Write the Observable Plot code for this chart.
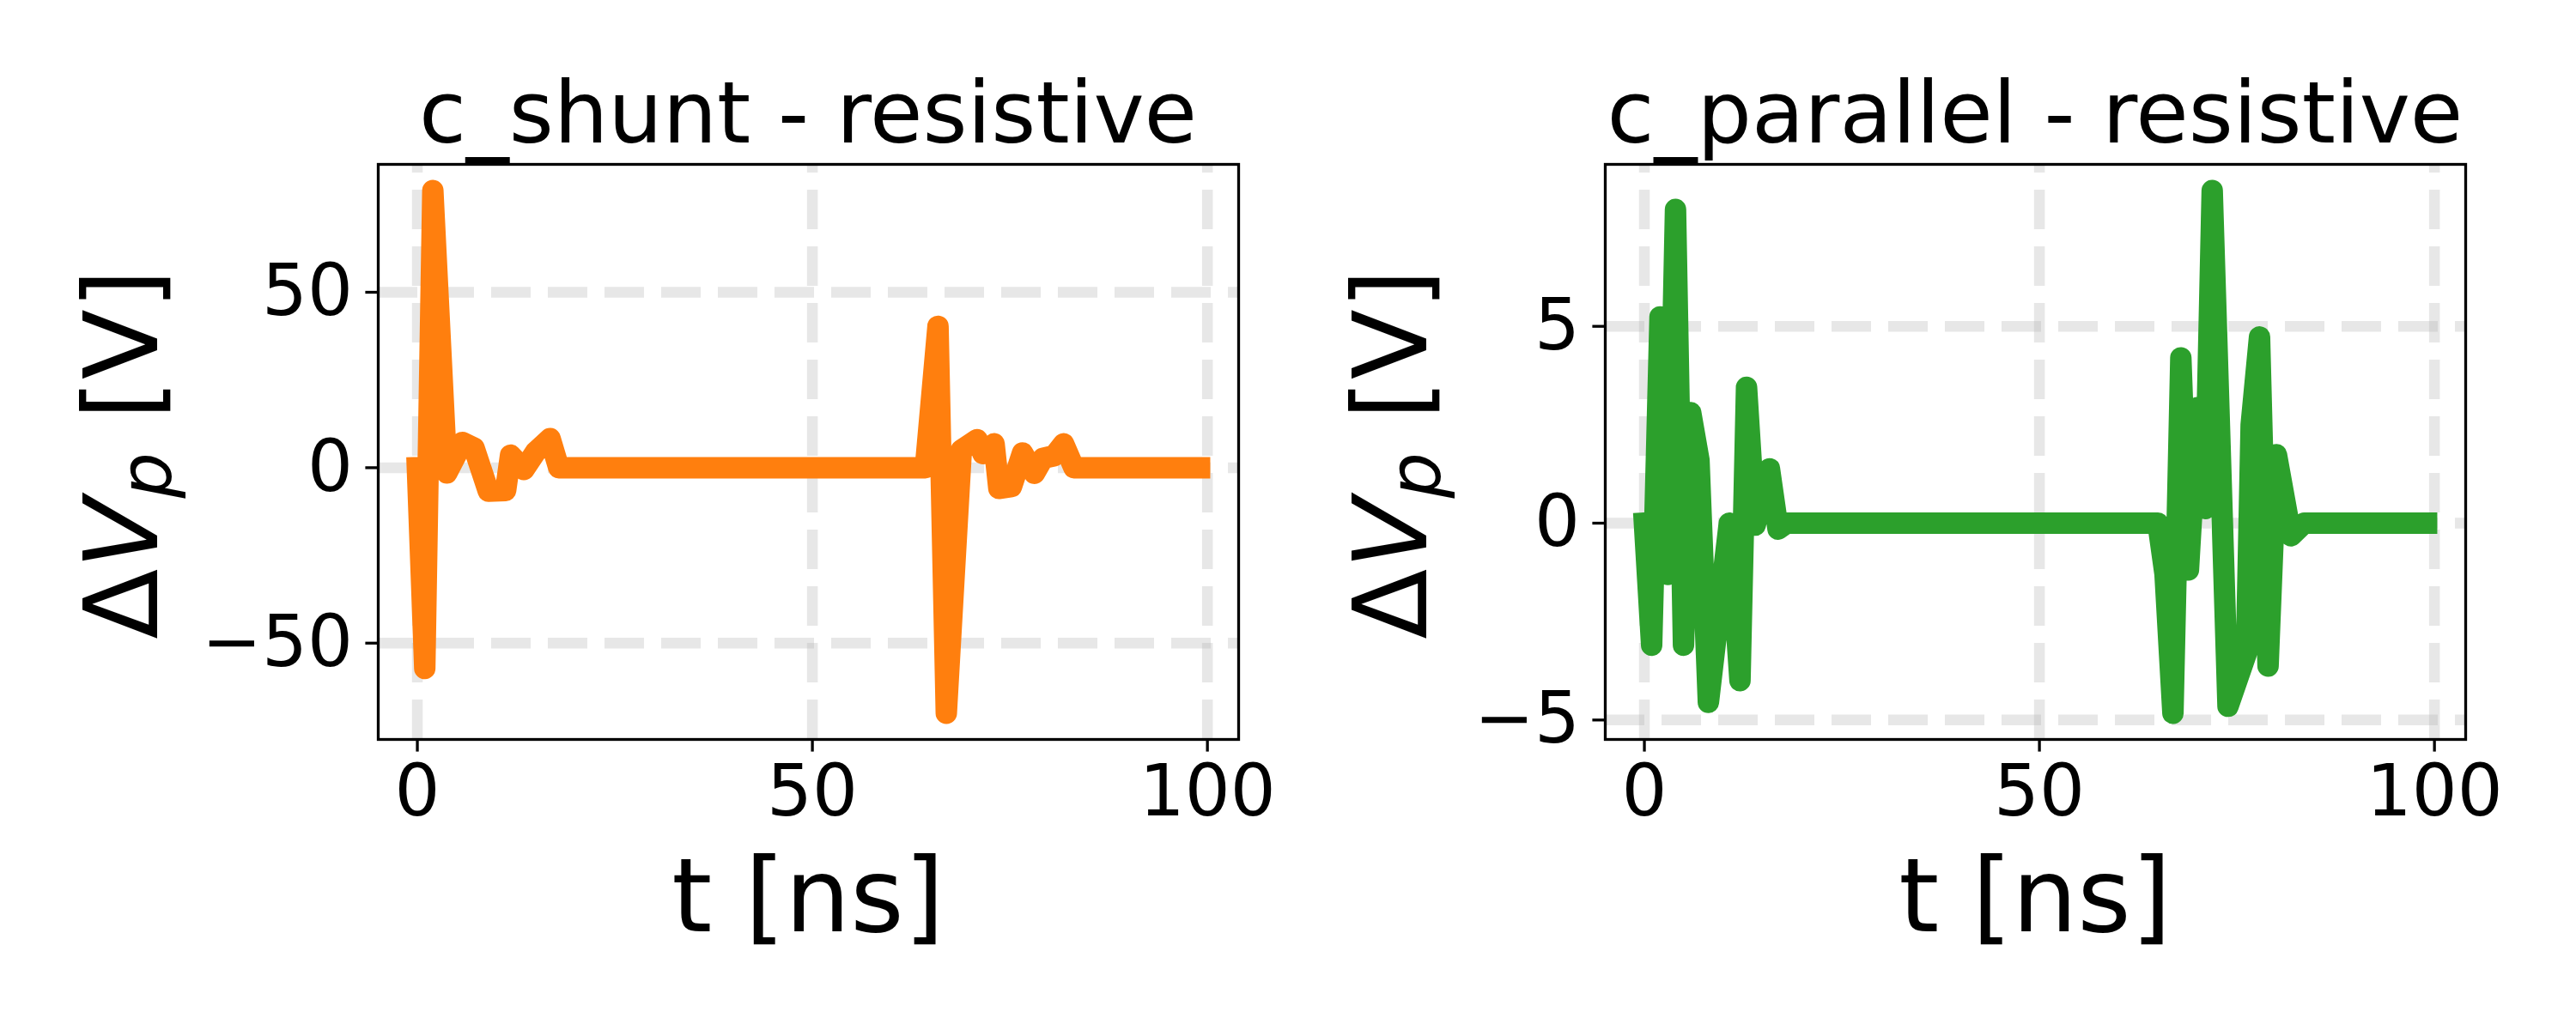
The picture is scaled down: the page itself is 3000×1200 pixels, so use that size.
<!DOCTYPE html>
<html><head><meta charset="utf-8">
<script src="https://cdn.jsdelivr.net/npm/d3@7"></script>
<script src="https://cdn.jsdelivr.net/npm/@observablehq/plot@0.6"></script>
<style>
html,body{margin:0;padding:0;background:#fff;}
#fig{position:relative;width:3000px;height:1200px;background:#fff;font-family:"DejaVu Sans";}
#fig svg{position:absolute;top:0;}
</style></head><body><div id="fig"></div>
<script>
// ---- data ----
const shuntT = [0, 0.94, 1.96, 3.73, 5.72, 7.18, 8.99, 11.17, 11.8, 13.5, 14.97, 16.8, 17.9,
  64.3, 65.9, 66.95, 68.85, 70.85, 71.6, 73.0, 73.6, 75.2, 76.6, 78.1, 79.2, 80.6, 81.8, 83.1, 99];
const shuntV = [0, -57.2, 79.0, -1.5, 7.2, 5.6, -6.7, -6.5, 3.6, -0.5, 4.5, 8.3, 0,
  0, 40.3, -70.0, 5.0, 8.0, 4.0, 6.8, -5.9, -5.4, 4.2, -1.6, 2.7, 3.4, 6.8, 0, 0];
const parT = [0, 0.92, 1.98, 2.96, 3.94, 4.95, 5.86, 6.91, 8.1, 10.75, 12.1, 12.93, 14.02, 15.83, 16.92, 18.0,
  65.0, 65.9, 66.9, 67.9, 68.86, 70.06, 70.97, 71.87, 73.87, 76.2, 76.8, 77.86, 78.94, 80.0, 81.85, 83.5, 99];
const parV = [0, -3.1, 5.24, -1.3, 7.97, -3.1, 2.81, 1.6, -4.55, 0.0, -4.0, 3.45, -0.05, 1.38, -0.15, 0,
  0, -1.3, -4.83, 4.2, -1.19, 2.94, 0.37, 8.45, -4.65, -3.3, 2.5, 4.73, -3.63, 1.74, -0.32, 0, 0];
const xTicks = [0, 50, 100];
const shuntYTicks = [-50, 0, 50];
const parYTicks = [-5, 0, 5];
const titles = ["c_shunt - resistive", "c_parallel - resistive"];
const xLabel = "t [ns]";
const colors = ["#ff7f0e", "#2ca02c"];

function pad(ext) { const r = ext[1] - ext[0]; return [ext[0] - 0.05 * r, ext[1] + 0.05 * r]; }

const W = 1500, H = 1200, MT = 191, MB = 339;
const gridStyle = {stroke: "#b0b0b0", strokeOpacity: 0.3, strokeWidth: 12.5, strokeDasharray: "46,20"};

function panel({t, v, yTicks, color, title, marginLeft, marginRight, yLabelX, left}) {
  const data = t.map((d, i) => ({t: d, v: v[i]}));
  const xd = pad(d3.extent(t)), yd = pad(d3.extent(v));
  const svg = Plot.plot({
    width: W, height: H, marginLeft, marginRight, marginTop: MT, marginBottom: MB,
    style: {fontFamily: "DejaVu Sans", color: "black", background: "white", overflow: "visible"},
    x: {domain: xd}, y: {domain: yd},
    marks: [
      Plot.ruleY(yTicks, gridStyle),
      Plot.ruleX(xTicks, {...gridStyle, y1: () => yd[0], y2: () => yd[1]}),
      Plot.line(data, {x: "t", y: "v", stroke: color, strokeWidth: 25,
        strokeLinejoin: "round", strokeLinecap: "square", clip: true}),
      Plot.frame({stroke: "black", strokeWidth: 3.3}),
      Plot.axisX({ticks: xTicks, tickSize: 14.6, tickPadding: 15, fontSize: 83.3,
        tickFormat: d3.format("d"), label: null, strokeWidth: 3.3}),
      Plot.axisY({ticks: yTicks, tickSize: 14.6, tickPadding: 15, fontSize: 83.3,
        tickFormat: d3.format("d"), label: null, strokeWidth: 3.3})
    ]
  });
  svg.style.left = left + "px";
  const s = d3.select(svg);
  const cx = marginLeft + (W - marginLeft - marginRight) / 2;
  const cy = MT + (H - MT - MB) / 2;
  s.append("text").attr("x", cx).attr("y", 166).attr("text-anchor", "middle")
    .attr("font-size", 100).attr("fill", "black").text(title);
  s.append("text").attr("x", cx).attr("y", 1085).attr("text-anchor", "middle")
    .attr("font-size", 120).attr("fill", "black").text(xLabel);
  const yl = s.append("text").attr("transform", `translate(${yLabelX},${cy + 3}) rotate(-90)`)
    .attr("text-anchor", "middle").attr("font-size", 120).attr("fill", "black");
  yl.append("tspan").text("\u0394");
  yl.append("tspan").attr("font-style", "italic").text("V");
  yl.append("tspan").attr("font-style", "italic").attr("font-size", 84).attr("dy", 16).text("p");
  yl.append("tspan").attr("dy", -16).text(" [V]");
  document.getElementById("fig").appendChild(svg);
}

panel({t: shuntT, v: shuntV, yTicks: shuntYTicks, color: colors[0], title: titles[0],
  marginLeft: 440, marginRight: 58, yLabelX: 182.5, left: 0});
panel({t: parT, v: parV, yTicks: parYTicks, color: colors[1], title: titles[1],
  marginLeft: 369, marginRight: 129, yLabelX: 160.5, left: 1500});
</script></body></html>
